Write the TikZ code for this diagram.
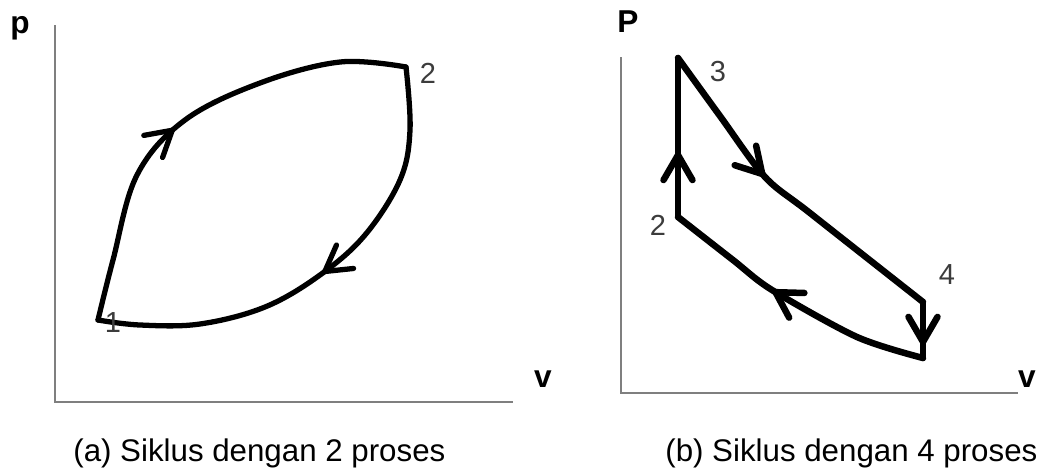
\documentclass[tikz,border=0pt]{standalone}
\usepackage{fontspec}
\setmainfont{Liberation Sans}
\usetikzlibrary{arrows.meta, decorations.markings}
\definecolor{axgray}{HTML}{7F7F7F}
\definecolor{numgray}{HTML}{3C3C3C}

\begin{document}
\begin{tikzpicture}[x=0.02cm, y=-0.02cm,
  axisline/.style={draw=axgray, line width=1.3pt},
  thinloop/.style={draw=black, line width=3pt, line cap=round, line join=round},
  thickloop/.style={draw=black, line width=3.7pt, line cap=round, line join=round},
  midarrow/.style={postaction={decorate}, decoration={markings, mark=at position #1 with {\arrow{Straight Barb[length=0.5cm, width=0.58cm, round]}}}},
  axislabel/.style={font=\fontsize{18}{19}\selectfont\bfseries, anchor=base},
  numlabel/.style={font=\fontsize{16.5}{17}\selectfont, text=numgray},
  caption/.style={font=\fontsize{17.8}{19}\selectfont, anchor=base west, inner sep=0pt},
]
\useasboundingbox (0,0) rectangle (1038,471);
% (a) two processes
\coordinate (ao) at (55,402); \coordinate (ay) at (55,25); \coordinate (ax) at (513,402);
\draw[axisline] (ay) -- (ao) -- (ax);
\node[axislabel] (ap) at (20,33) {p};
\node[axislabel] (av) at (543,387) {v};
\coordinate (a1) at (98,320); \coordinate (a2) at (406,67);
\draw[thinloop, midarrow=0.46] plot[smooth, tension=0.6] coordinates {(a1) (113,260) (137,175) (185,120) (260,83) (340,62) (a2)};
\draw[thinloop, midarrow=0.50] plot[smooth, tension=0.6] coordinates {(a2) (410,130) (400,180) (365,235) (320,275) (265,307) (200,324) (140,325) (a1)};
\node[numlabel] (n1) at (113,323) {1};
\node[numlabel] (n2) at (428,73) {2};
\node[caption] (capa) at (73,461) {(a) Siklus dengan 2 proses};
% (b) four processes
\coordinate (bo) at (621,393); \coordinate (by) at (621,57); \coordinate (bx) at (1018,393);
\draw[axisline] (by) -- (bo) -- (bx);
\node[axislabel] (bp) at (628,32) {P};
\node[axislabel] (bv) at (1027,387) {v};
\coordinate (b2) at (678,217); \coordinate (b3) at (678,58); \coordinate (b4) at (923,302); \coordinate (b5) at (923,358);
\draw[thickloop, midarrow=0.41] (b2) -- (b3);
\draw[thickloop, midarrow=0.42] plot[smooth, tension=0.5] coordinates {(b3) (720,116) (765,177) (810,213) (b4)};
\draw[thickloop, midarrow=0.77] (b4) -- (b5);
\draw[thickloop, midarrow=0.58] plot[smooth, tension=0.5] coordinates {(b5) (857,337) (772,290) (733,260) (b2)};
\node[numlabel] (m3) at (718,72) {3};
\node[numlabel] (m2) at (658,225) {2};
\node[numlabel] (m4) at (947,275) {4};
\node[caption] (capb) at (665,461) {(b) Siklus dengan 4 proses};
\end{tikzpicture}
\end{document}
